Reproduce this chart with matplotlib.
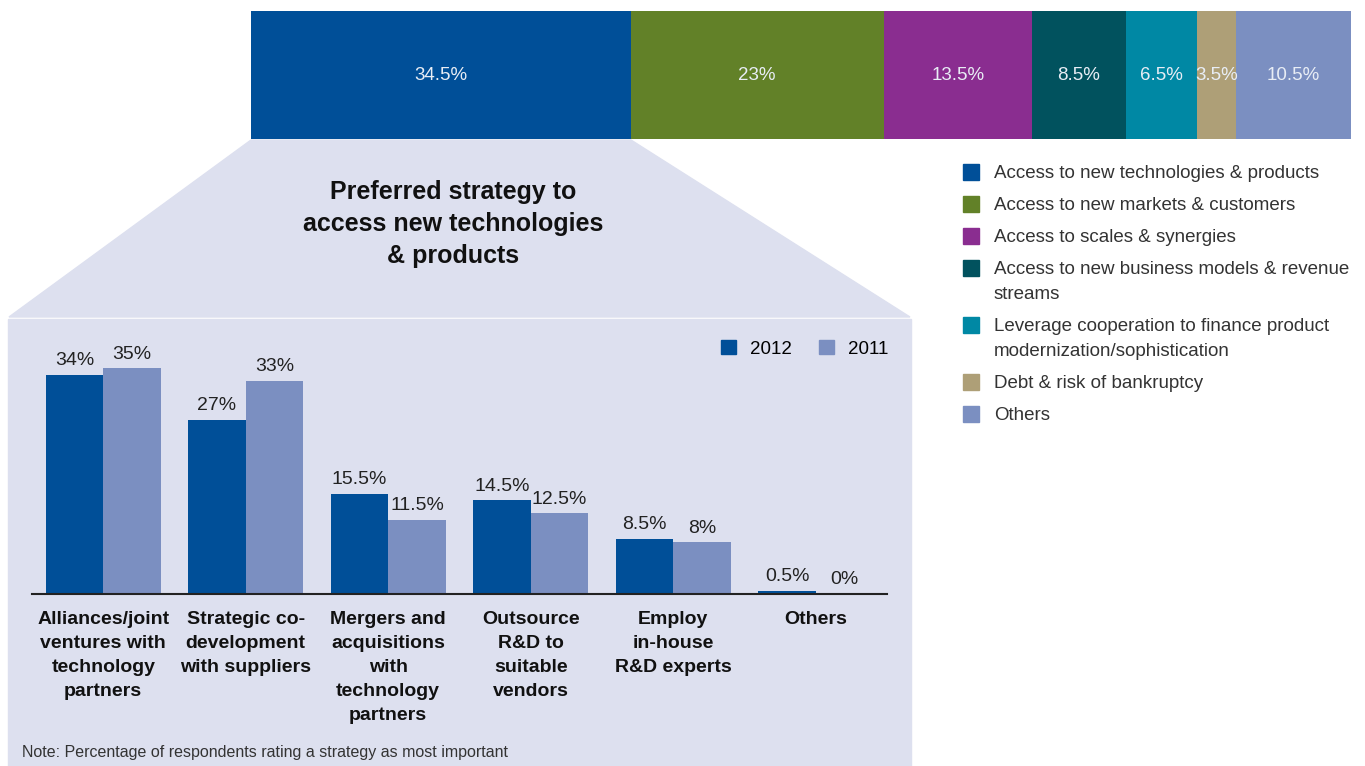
import matplotlib
matplotlib.use('Agg')
import numpy as np
import matplotlib.pyplot as plt
from matplotlib.patches import Polygon, Rectangle, Patch

W, H = 1365, 766

# top stacked bar: main motive for cooperation
motives = ['Access to new technologies & products',
           'Access to new markets & customers',
           'Access to scales & synergies',
           'Access to new business models & revenue\nstreams',
           'Leverage cooperation to finance product\nmodernization/sophistication',
           'Debt & risk of bankruptcy',
           'Others']
motive_share = [34.5, 23, 13.5, 8.5, 6.5, 3.5, 10.5]
motive_colors = ['#004f98', '#628128', '#8a2d90', '#01525e', '#0088a4', '#ae9f77', '#7b8fc1']

# bar chart: preferred strategy
strategies = ['Alliances/joint\nventures with\ntechnology\npartners',
              'Strategic co-\ndevelopment\nwith suppliers',
              'Mergers and\nacquisitions\nwith\ntechnology\npartners',
              'Outsource\nR&D to\nsuitable\nvendors',
              'Employ\nin-house\nR&D experts',
              'Others']
val_2012 = [34, 27, 15.5, 14.5, 8.5, 0.5]
val_2011 = [35, 33, 11.5, 12.5, 8, 0]
c2012 = '#004f98'
c2011 = '#7b8fc1'

bg = '#dde0ef'
txt = '#222222'
plt.rcParams['font.family'] = ['Liberation Sans', 'DejaVu Sans']


def px(x, y):
    return x / W, 1 - y / H


fig = plt.figure(figsize=(W / 100, H / 100), dpi=100)

# lavender callout shape + box
trap = Polygon([px(251, 140), px(631, 140), px(910, 317), px(9, 317)],
               closed=True, transform=fig.transFigure, color=bg, zorder=-1)
fig.patches.append(trap)
box = Rectangle(px(8, 766), 903 / W, (766 - 319) / H,
                transform=fig.transFigure, color=bg, zorder=-1)
fig.patches.append(box)

# top stacked bar
axt = fig.add_axes([251 / W, 1 - 139 / H, 1100 / W, 128 / H])
left = 0
for share, col in zip(motive_share, motive_colors):
    axt.barh(0, share, left=left, height=1, color=col, linewidth=0)
    axt.text(left + share / 2, 0, f'{share:g}%', ha='center', va='center',
             color='#e8edf5', fontsize=13.5)
    left += share
axt.set_xlim(0, 100)
axt.set_ylim(-0.5, 0.5)
axt.axis('off')

# right legend
y = 172
for lab, col in zip(motives, motive_colors):
    fig.patches.append(Rectangle(px(963, y + 8), 16 / W, 16 / H,
                                 transform=fig.transFigure, color=col))
    fig.text(994 / W, 1 - (y - 7) / H, lab, ha='left', va='top',
             fontsize=13.5, color='#333333', linespacing=1.65)
    y += 32 + 25 * lab.count('\n')

# title
fig.text(453 / W, 1 - 224 / H, 'Preferred strategy to\naccess new technologies\n& products',
         ha='center', va='center', fontsize=18, fontweight='bold', color='#111111',
         linespacing=1.4)

# bar chart
ax = fig.add_axes([32 / W, 1 - 594 / H, 855 / W, 264 / H])
ax.set_facecolor('none')
x = np.arange(len(strategies))
w = 0.403
ax.bar(x - w / 2, val_2012, w, color=c2012, linewidth=0, label='2012')
ax.bar(x + w / 2, val_2011, w, color=c2011, linewidth=0, label='2011')
for xs, vals in ((x - w / 2, val_2012), (x + w / 2, val_2011)):
    for xi, v in zip(xs, vals):
        ax.annotate(f'{v:g}%', (xi, v), xytext=(0, 7), textcoords='offset points',
                    ha='center', va='baseline', fontsize=14, color=txt)
ax.set_xlim(-0.5, 5.5)
ax.set_ylim(0, 264 / 6.45)
ax.set_xticks(x)
ax.set_xticklabels(strategies, fontsize=14, fontweight='bold', color='#111111',
                   linespacing=1.55)
ax.tick_params(axis='x', length=0, pad=12)
ax.set_yticks([])
for s in ['left', 'right', 'top']:
    ax.spines[s].set_visible(False)
ax.spines['bottom'].set_color('#222222')
ax.spines['bottom'].set_linewidth(1.5)

ax.legend(handles=[Patch(color=c2012), Patch(color=c2011)], labels=['2012', '2011'],
          ncol=2, frameon=False, loc='upper right',
          bbox_to_anchor=(888 / W, 1 - 340 / H), bbox_transform=fig.transFigure,
          borderaxespad=0, borderpad=0, handlelength=0.8, handleheight=0.8,
          handletextpad=0.75, columnspacing=1.4, fontsize=13.5)

fig.text(22 / W, 1 - 757 / H, 'Note: Percentage of respondents rating a strategy as most important',
         ha='left', va='baseline', fontsize=11.5, color='#333333')

fig.savefig('out.png', dpi=100)
